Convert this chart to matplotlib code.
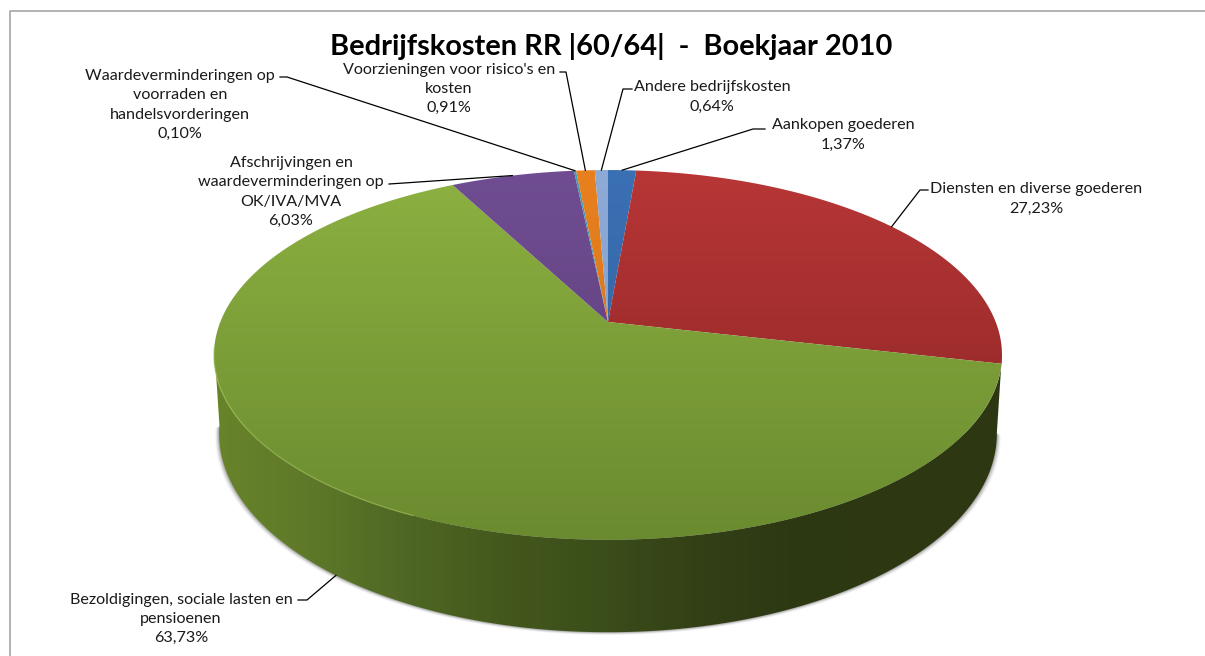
import numpy as np
import matplotlib
matplotlib.use('Agg')
import matplotlib.pyplot as plt
from matplotlib.colors import LinearSegmentedColormap
from matplotlib.patches import Polygon

plt.rcParams['font.family'] = ['Lato', 'DejaVu Sans']

title = 'Bedrijfskosten RR |60/64|  -  Boekjaar 2010'
labels = ['Aankopen goederen', 'Diensten en diverse goederen',
          'Bezoldigingen, sociale lasten en\npensioenen',
          'Afschrijvingen en\nwaardeverminderingen op\nOK/IVA/MVA',
          'Waardeverminderingen op\nvoorraden en\nhandelsvorderingen',
          "Voorzieningen voor risico's en\nkosten",
          'Andere bedrijfskosten']
values = [1.37, 27.23, 63.73, 6.03, 0.10, 0.91, 0.64]
value_labels = ['1,37%', '27,23%', '63,73%', '6,03%', '0,10%', '0,91%', '0,64%']
top_colors = ['#3a70b4', '#b83636', '#8db141', '#704d92', '#3f9db5', '#e8801f', '#8dabd6']
low_colors = ['#2f5f9c', '#872424', '#6a8a2f', '#5a3d78', '#358aa0', '#cf7018', '#7b98c4']

# pie geometry in pixels, tilted disc with some perspective
cx, cy = 608, 322
rx, ry = 387.7, 179
k = 0.178
depth = 76
lower_scale = 0.987

# where the label text goes, and the elbow of its leader line
label_pos = [(843, 135), (1036, 199), (181, 619), (291, 192), (180, 105), (449, 89), (712, 97)]
line_start = [(765, 129), (928, 190), (298, 600), (389, 184), (280, 77), (560, 72), (632, 89)]
line_elbow = [(753, 129), (920, 190), (307, 600), (404, 183), (287, 77), (566, 72), (623, 89)]


def project(theta):
    u, v = np.sin(theta), np.cos(theta)
    w = 1 + k * v
    return cx + rx * u / w, cy - ry * v / w


def project_low(theta):
    x, y = project(theta)
    w = 1 + k * np.cos(theta)
    return cx + (x - cx) * lower_scale, y + depth / w


def gradient_fill(ax, pts, colors, extent, horizontal=False, zorder=2):
    patch = Polygon(pts, closed=True, fc='none', ec='none', transform=ax.transData)
    ax.add_patch(patch)
    cmap = LinearSegmentedColormap.from_list('g', colors)
    ramp = np.linspace(0, 1, 256)
    ramp = ramp.reshape(1, -1) if horizontal else ramp.reshape(-1, 1)
    im = ax.imshow(ramp, cmap=cmap, extent=extent, aspect='auto', origin='upper',
                   zorder=zorder, interpolation='bilinear')
    im.set_clip_path(patch)
    return im


fig = plt.figure(figsize=(12.05, 6.56), dpi=100)
ax = fig.add_axes([0, 0, 1, 1])

# frame, only left and top fall inside the picture
ax.plot([10, 10, 1205], [656, 11, 11], color='#a6a6a6', lw=1.2, zorder=1)

edges = np.cumsum([0] + values) / sum(values) * 2 * np.pi
mids = (edges[:-1] + edges[1:]) / 2

# side wall of the pie, front half of the rim
front = np.linspace(np.radians(100), np.radians(262), 300)
top_x, top_y = project(front)
low_x, low_y = project_low(front)

for off, alpha in [(4, 0.06), (3, 0.10), (2, 0.16), (1, 0.25)]:
    ax.add_patch(Polygon(np.column_stack([cx + (low_x - cx) * (1 + off / 390), low_y + off * 0.7]),
                         closed=True, fc='#555555', ec='none', alpha=alpha, zorder=1.5))

wall = np.concatenate([np.column_stack([top_x, top_y]),
                       np.column_stack([low_x, low_y])[::-1]])
gradient_fill(ax, wall, ['#688429', '#5e7829', '#4e6623', '#43571c', '#3a4d1a', '#333f16', '#2c3812', '#2e3913', '#2d3712'],
              (214, 1002, 656, 300), horizontal=True)

# top surface
for i, val in enumerate(values):
    n = max(int(val * 8), 4)
    t = np.linspace(edges[i], edges[i + 1], n)
    xs, ys = project(t)
    pts = np.vstack([[cx, cy], np.column_stack([xs, ys])])
    gradient_fill(ax, pts, [top_colors[i], low_colors[i]], (200, 1010, 545, 168), zorder=3)

# light edge along the front of the disc
hl = np.linspace(np.radians(205), np.radians(262), 100)
hx, hy = project(hl)
ax.plot(hx, hy, color='#9dbd52', lw=1, alpha=0.6, zorder=3.5)

# leader lines end at the slice middle, on the rim
for i in range(len(values)):
    if labels[i].startswith('Bezold'):
        ex, ey = project_low(mids[i])
    else:
        ex, ey = project(mids[i])
    ax.plot([line_start[i][0], line_elbow[i][0], ex], [line_start[i][1], line_elbow[i][1], ey],
            color='black', lw=0.9, zorder=4, solid_joinstyle='round')
    ax.text(label_pos[i][0], label_pos[i][1], labels[i] + '\n' + value_labels[i],
            ha='center', va='center', ma='center', fontsize=11.6, color='#1a1a1a',
            linespacing=1.47, zorder=5)

ax.text(611, 46, title, ha='center', va='center', fontsize=20.9, fontweight='bold', color='black', zorder=5)

ax.set_xlim(0, 1205)
ax.set_ylim(656, 0)
ax.axis('off')

fig.savefig('out.png', dpi=100)
